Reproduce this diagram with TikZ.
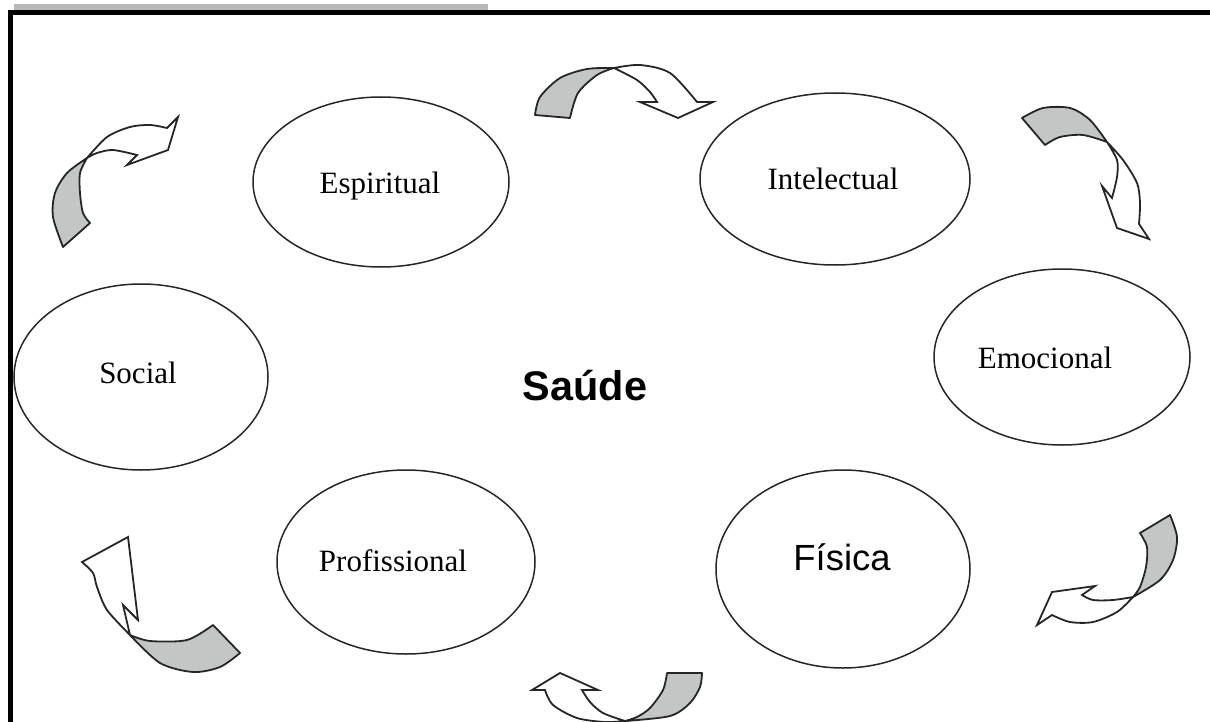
\documentclass[tikz,border=0pt]{standalone}
\usepackage{fontspec}
\setmainfont{Liberation Serif}
\newfontfamily\arialfont{Liberation Sans}
\usetikzlibrary{shapes.geometric}
\definecolor{ribbongray}{RGB}{196,198,198}
\definecolor{bargray}{RGB}{184,184,184}
\tikzset{
  oval/.style={draw=black!85, line width=0.75pt, ellipse, inner sep=0pt},
  lbl/.style={font=\fontsize{15.5}{18}\selectfont, anchor=base, inner sep=0pt},
  back/.style={fill=ribbongray, draw=black!85, line width=0.9pt, line join=round},
  front/.style={fill=white, draw=black!85, line width=0.9pt, line join=miter},
}
\begin{document}
\begin{tikzpicture}[x=0.5pt, y=-0.5pt]
\useasboundingbox (0,0) rectangle (1210,722);
% frame
\fill[bargray] (14,4) rectangle (488,10);
\draw[line width=2.3pt, black] (10.5,722) -- (10.5,12.5) -- (1210,12.5);
% ellipses
\node[oval, minimum width=128pt, minimum height=85pt] (esp) at (381,182) {};
\node[oval, minimum width=135pt, minimum height=86pt] (int) at (835,179) {};
\node[oval, minimum width=128pt, minimum height=88pt] (emo) at (1062,357) {};
\node[oval, minimum width=127pt, minimum height=93pt] (soc) at (141,377) {};
\node[oval, minimum width=129pt, minimum height=92pt] (pro) at (406,562) {};
\node[oval, minimum width=127pt, minimum height=99pt] (fis) at (843,569) {};
% labels
\node[lbl] (tesp) at (380,193) {Espiritual};
\node[lbl] (tint) at (833,189) {Intelectual};
\node[lbl] (temo) at (1045,368) {Emocional};
\node[lbl] (tsoc) at (138,383) {Social};
\node[lbl] (tpro) at (393,571) {Profissional};
\node[lbl, font=\arialfont\fontsize{18.2}{21}\selectfont] (tfis) at (842,570) {Física};
\node[lbl, font=\arialfont\bfseries\fontsize{20.7}{24}\selectfont] (tsau) at (585,400) {Saúde};
% arrow 1 (top)
\draw[back] (570,118) -- (535,115) -- plot[smooth] coordinates {(535,115) (540,97) (560,78) (587,69) (614,68)}
  -- plot[smooth] coordinates {(614,68) (597,75) (578,93) (570,118)} -- cycle;
\draw[front] (614,68) -- plot[smooth] coordinates {(614,68) (640,65) (670,73) (697,102)}
  -- (713,102) -- (678,118) -- (640,102) -- (657,102)
  -- plot[smooth] coordinates {(657,102) (650,92) (637,80) (614,68)} -- cycle;
% arrow 2 (top right)
\draw[back] (1045,145) -- (1022,118) -- plot[smooth] coordinates {(1022,118) (1043,108) (1070,108) (1090,120) (1107,142)}
  -- plot[smooth] coordinates {(1107,142) (1083,135) (1060,137) (1045,145)} -- cycle;
\draw[front] (1107,142) -- plot[smooth] coordinates {(1107,142) (1123,160) (1137,183) (1140,203) (1139,224)}
  -- (1149,239) -- (1117,228) -- (1102,186) -- (1112,198)
  -- plot[smooth] coordinates {(1112,198) (1117,177) (1117,160) (1107,142)} -- cycle;
% arrow 3 (lower right)
\draw[back] (1140,533) -- (1170,515) -- plot[smooth] coordinates {(1170,515) (1177,537) (1173,560) (1160,580) (1133,597)}
  -- plot[smooth] coordinates {(1133,597) (1140,587) (1146,567) (1147,547) (1140,533)} -- cycle;
\draw[front] (1133,597) -- plot[smooth] coordinates {(1133,597) (1113,600) (1093,600) (1082,595)}
  -- (1095,586) -- (1052,592) -- (1037,625) -- (1052,615)
  -- plot[smooth] coordinates {(1052,615) (1070,622) (1093,622) (1117,612) (1133,597)} -- cycle;
% arrow 4 (bottom)
\draw[back] (667,673) -- (702,673) -- plot[smooth] coordinates {(702,673) (700,687) (690,703) (670,716) (625,721)}
  -- plot[smooth] coordinates {(625,721) (637,717) (650,708) (663,690) (667,673)} -- cycle;
\draw[front] (625,721) -- plot[smooth] coordinates {(625,721) (603,713) (590,702) (582,690)}
  -- (598,690) -- (560,673) -- (532,690) -- (545,690)
  -- plot[smooth] coordinates {(545,690) (553,705) (577,718) (605,722) (625,721)} -- cycle;
% arrow 5 (bottom left)
\draw[back] (213,625) -- (240,653) -- plot[smooth] coordinates {(240,653) (220,667) (193,672) (160,663) (130,635)}
  -- plot[smooth] coordinates {(130,635) (150,641) (187,640) (213,625)} -- cycle;
\draw[front] (130,635) -- plot[smooth] coordinates {(130,635) (107,610) (97,587) (93,573) (82,562)}
  -- (128,537) -- (138,620) -- (123,605) -- (130,635) -- cycle;
% arrow 6 (top left)
\draw[back] (90,223) -- (63,247) -- plot[smooth] coordinates {(63,247) (53,217) (55,193) (67,173) (87,158)}
  -- plot[smooth] coordinates {(87,158) (80,173) (80,193) (83,213) (90,223)} -- cycle;
\draw[front] (87,158) -- plot[smooth] coordinates {(87,158) (107,137) (130,127) (150,125) (167,128)}
  -- (178,117) -- (168,150) -- (127,165) -- (137,155)
  -- plot[smooth] coordinates {(137,155) (113,150) (97,153) (87,158)} -- cycle;
\end{tikzpicture}
\end{document}
